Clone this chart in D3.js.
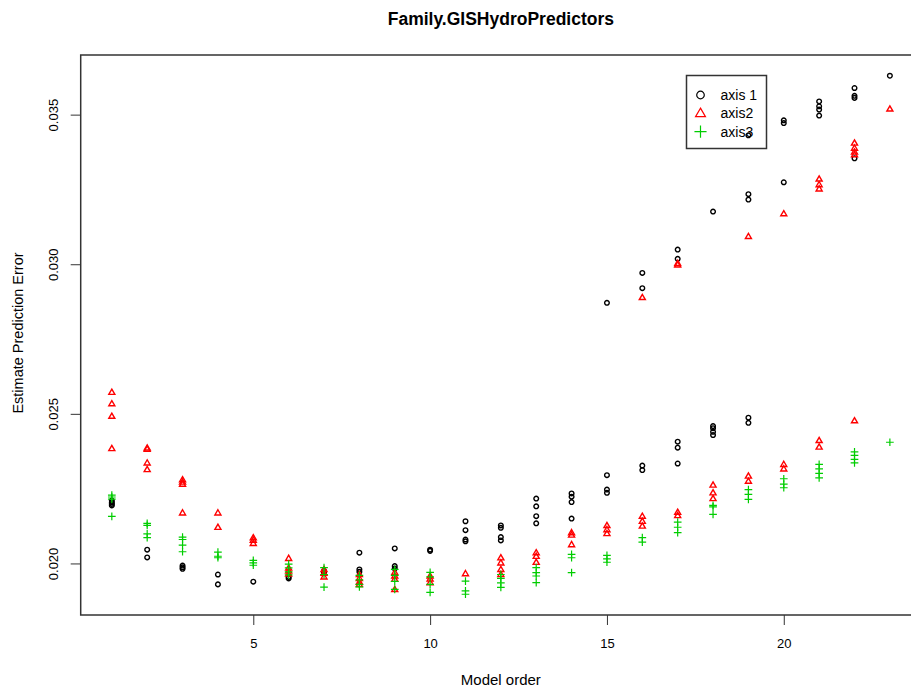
<!DOCTYPE html>
<html>
<head>
<meta charset="utf-8">
<script src="https://cdn.jsdelivr.net/npm/d3@7"></script>
<style>
  html, body { margin: 0; padding: 0; background: #fff; }
  svg { display: block; font-family: "Liberation Sans", Arial, Helvetica, sans-serif; }
</style>
</head>
<body>
<svg id="chart" width="911" height="691"></svg>
<script>
// Model orders evaluated
const modelOrders = [1, 2, 3, 4, 5, 6, 7, 8, 9, 10, 11, 12, 13, 14, 15, 16, 17, 18, 19, 20, 21, 22, 23];

// Estimated prediction errors per model order (one inner list per order)
const axis1Errors = [
  [0.02210, 0.02204, 0.02199, 0.02194],
  [0.02046, 0.02020],
  [0.01993, 0.01987, 0.01982],
  [0.01963, 0.01930],
  [0.01939],
  [0.01955, 0.01950],
  [0.01975, 0.01968],
  [0.02036, 0.01980, 0.01972],
  [0.02050, 0.01991, 0.01983],
  [0.02046, 0.02042],
  [0.02141, 0.02111, 0.02080, 0.02074],
  [0.02127, 0.02119, 0.02088, 0.02077],
  [0.02217, 0.02191, 0.02158, 0.02134],
  [0.02234, 0.02223, 0.02205, 0.02150],
  [0.02871, 0.02295, 0.02247, 0.02236],
  [0.02971, 0.02920, 0.02327, 0.02312],
  [0.03049, 0.03018, 0.02407, 0.02387, 0.02334],
  [0.03176, 0.02459, 0.02452, 0.02440, 0.02429],
  [0.03431, 0.03234, 0.03216, 0.02487, 0.02470],
  [0.03481, 0.03472, 0.03274],
  [0.03544, 0.03528, 0.03517, 0.03497],
  [0.03589, 0.03563, 0.03556, 0.03354],
  [0.03630]
];

const axis2Errors = [
  [0.02572, 0.02534, 0.02492, 0.02384],
  [0.02386, 0.02382, 0.02336, 0.02314],
  [0.02280, 0.02272, 0.02265, 0.02169],
  [0.02169, 0.02121],
  [0.02086, 0.02078, 0.02067],
  [0.02017, 0.01985, 0.01975, 0.01965],
  [0.01980, 0.01967, 0.01955],
  [0.01963, 0.01950, 0.01938, 0.01930],
  [0.01970, 0.01958, 0.01947, 0.01913],
  [0.01958, 0.01948, 0.01936],
  [0.01966],
  [0.02019, 0.02002, 0.01980, 0.01963],
  [0.02036, 0.02024, 0.02004],
  [0.02103, 0.02095, 0.02063],
  [0.02127, 0.02113, 0.02100],
  [0.02889, 0.02158, 0.02141, 0.02125],
  [0.03003, 0.02998, 0.02171, 0.02160],
  [0.02262, 0.02236, 0.02217],
  [0.03093, 0.02292, 0.02275],
  [0.03169, 0.02331, 0.02316],
  [0.03285, 0.03266, 0.03252, 0.02411, 0.02389],
  [0.03405, 0.03388, 0.03375, 0.03366, 0.02477],
  [0.03519]
];

const axis3Errors = [
  [0.02228, 0.02222, 0.02215, 0.02157],
  [0.02134, 0.02127, 0.02099, 0.02086],
  [0.02088, 0.02080, 0.02061, 0.02039],
  [0.02038, 0.02024, 0.02019],
  [0.02010, 0.02002, 0.01994],
  [0.01998, 0.01985, 0.01972, 0.01962],
  [0.01986, 0.01963, 0.01921],
  [0.01960, 0.01945, 0.01930, 0.01922],
  [0.01980, 0.01960, 0.01940, 0.01913],
  [0.01970, 0.01955, 0.01930, 0.01903],
  [0.01941, 0.01908, 0.01897],
  [0.01963, 0.01950, 0.01935, 0.01920],
  [0.01986, 0.01969, 0.01958, 0.01936],
  [0.02030, 0.02019, 0.01969],
  [0.02027, 0.02015, 0.02004],
  [0.02086, 0.02071],
  [0.02138, 0.02121, 0.02103],
  [0.02194, 0.02189, 0.02164],
  [0.02247, 0.02231, 0.02214],
  [0.02283, 0.02265, 0.02253],
  [0.02331, 0.02316, 0.02301, 0.02286],
  [0.02373, 0.02361, 0.02348, 0.02336],
  [0.02405]
];

const seriesNames = ["axis 1", "axis2", "axis3"];
const seriesColors = ["#000000", "#FF0000", "#00CD00"];
const seriesShapes = ["circle", "triangle", "plus"];
const xTicks = [5, 10, 15, 20];
const yTicks = [0.020, 0.025, 0.030, 0.035];

const titleText = "Family.GISHydroPredictors";
const xLabel = "Model order";
const yLabel = "Estimate Prediction Error";

// Flatten to points
const allSeries = [axis1Errors, axis2Errors, axis3Errors].map((rows, si) => {
  const pts = [];
  rows.forEach((vals, i) => vals.forEach(v => pts.push({ x: modelOrders[i], y: v })));
  return { name: seriesNames[si], color: seriesColors[si], shape: seriesShapes[si], points: pts };
});

// Plot region
const plotLeft = 80.7, plotRight = 921, plotTop = 55, plotBottom = 615;

// Domains padded by 4% on each side
function padded(ext) {
  const d = (ext[1] - ext[0]) * 0.04;
  return [ext[0] - d, ext[1] + d];
}
const allPts = allSeries.flatMap(s => s.points);
const x = d3.scaleLinear().domain(padded(d3.extent(allPts, d => d.x))).range([plotLeft, plotRight]);
const y = d3.scaleLinear().domain(padded(d3.extent(allPts, d => d.y))).range([plotBottom, plotTop]);

const svg = d3.select("#chart");
const axisColor = "#333";

// Marker path generator (centred at origin)
function shapePath(shape, s) {
  if (shape === "circle") {
    const r = s * 0.42;
    return `M${r},0A${r},${r} 0 1,1 ${-r},0A${r},${r} 0 1,1 ${r},0Z`;
  }
  if (shape === "triangle") {
    const h = s * 0.95, w = s * 0.55;
    return `M0,${-h * 0.6}L${w},${h * 0.4}L${-w},${h * 0.4}Z`;
  }
  const a = s * 0.55;
  return `M${-a},0H${a}M0,${-a}V${a}`;
}

// Legend (drawn first, transparent background)
const lg = svg.append("g").attr("transform", "translate(686.5,75.5)");
lg.append("rect").attr("width", 80).attr("height", 73)
  .attr("fill", "none").attr("stroke", axisColor).attr("stroke-width", 1.5);
allSeries.forEach((s, i) => {
  const cy = 19.5 + i * 18.3;
  lg.append("path")
    .attr("transform", `translate(14,${cy})`)
    .attr("d", shapePath(s.shape, s.shape === "plus" ? 11 : 9))
    .attr("fill", "none").attr("stroke", s.color).attr("stroke-width", 1.2);
  lg.append("text")
    .attr("x", 34).attr("y", cy + 5)
    .attr("font-size", 14).text(s.name);
});

// Points
allSeries.forEach(s => {
  svg.append("g")
    .selectAll("path")
    .data(s.points)
    .join("path")
    .attr("transform", d => `translate(${x(d.x)},${y(d.y)})`)
    .attr("d", shapePath(s.shape, s.shape === "plus" ? 7 : 5.5))
    .attr("fill", "none")
    .attr("stroke", s.color)
    .attr("stroke-width", s.shape === "plus" ? 1.2 : 1.4);
});

// Box
svg.append("rect")
  .attr("x", plotLeft).attr("y", plotTop)
  .attr("width", plotRight - plotLeft).attr("height", plotBottom - plotTop)
  .attr("fill", "none").attr("stroke", axisColor).attr("stroke-width", 1.5);

// X axis
const xAxis = d3.axisBottom(x).tickValues(xTicks).tickSize(10).tickPadding(14).tickFormat(d3.format("d"));
const gx = svg.append("g").attr("transform", `translate(0,${plotBottom})`).call(xAxis);
gx.select(".domain").remove();
gx.selectAll(".tick line").attr("stroke", axisColor).attr("stroke-width", 1);
gx.selectAll(".tick text").attr("font-size", 13).attr("fill", "#000")
  .attr("font-family", "Liberation Sans, Arial, sans-serif");

// Y axis
const yAxis = d3.axisLeft(y).tickValues(yTicks).tickSize(10).tickFormat(d3.format(".3f"));
const gy = svg.append("g").attr("transform", `translate(${plotLeft},0)`).call(yAxis);
gy.select(".domain").remove();
gy.selectAll(".tick line").attr("stroke", axisColor).attr("stroke-width", 1);
gy.selectAll(".tick text")
  .attr("font-size", 13).attr("fill", "#000")
  .attr("font-family", "Liberation Sans, Arial, sans-serif")
  .attr("x", null).attr("dy", null)
  .attr("text-anchor", "middle")
  .attr("transform", "translate(-23,0) rotate(-90)");

// Title and axis labels
svg.append("text")
  .attr("x", (plotLeft + plotRight) / 2).attr("y", 25)
  .attr("text-anchor", "middle").attr("font-size", 17.5).attr("font-weight", "bold")
  .text(titleText);

svg.append("text")
  .attr("x", (plotLeft + plotRight) / 2).attr("y", 685)
  .attr("text-anchor", "middle").attr("font-size", 15)
  .text(xLabel);

svg.append("text")
  .attr("transform", `translate(23,${(plotTop + plotBottom) / 2 - 2}) rotate(-90)`)
  .attr("text-anchor", "middle").attr("font-size", 14.5)
  .text(yLabel);
</script>
</body>
</html>
